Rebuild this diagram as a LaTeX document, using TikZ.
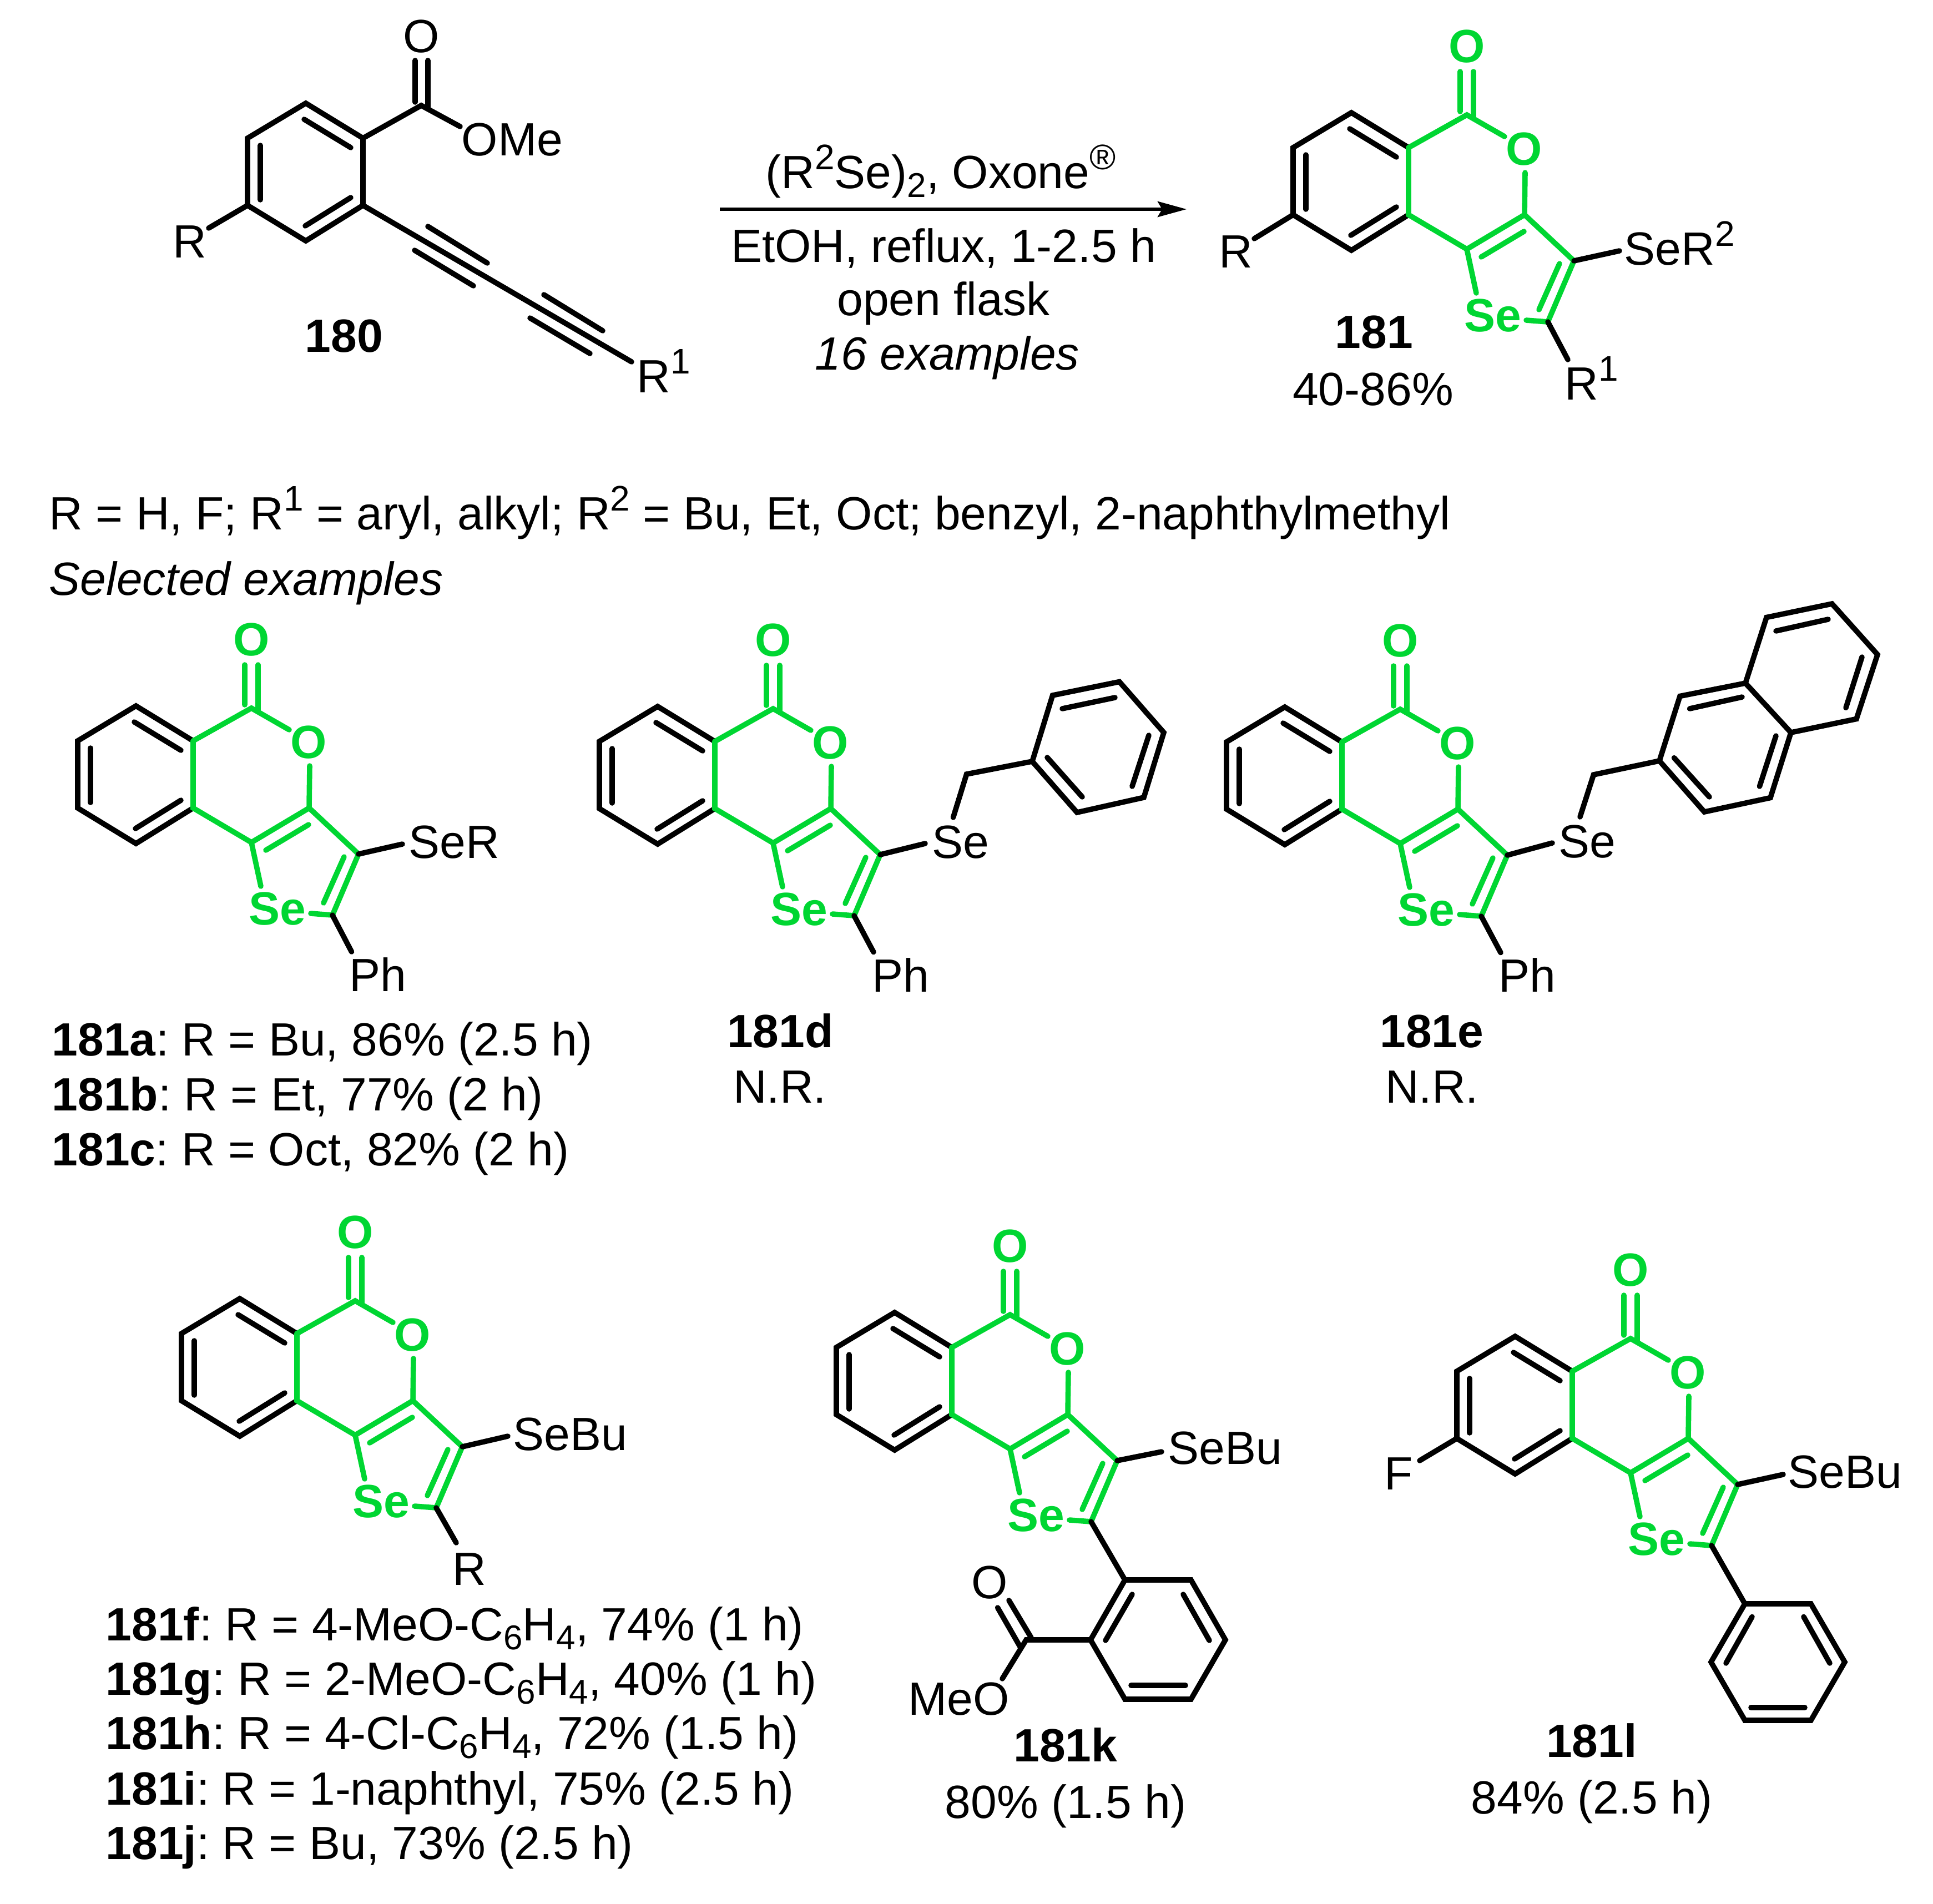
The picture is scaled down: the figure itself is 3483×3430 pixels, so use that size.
\documentclass[tikz,border=0pt]{standalone}
\usepackage{fontspec}
\setmainfont{Liberation Sans}
\usetikzlibrary{arrows.meta}
\definecolor{hl}{RGB}{0,214,50}
\newcommand{\supp}[1]{\raisebox{8.5pt}{\fontsize{16pt}{16pt}\selectfont #1}}
\newcommand{\subb}[1]{\raisebox{-4.2pt}{\fontsize{15.5pt}{16pt}\selectfont #1}}
\tikzset{
  bond/.style={line width=2.4pt,line cap=round,line join=miter,draw=black},
  gbond/.style={line width=2.4pt,line cap=round,line join=miter,draw=hl},
  lbl/.style={inner sep=0pt,anchor=base west,text=black},
  clbl/.style={inner sep=0pt,anchor=base,text=black},
  glbl/.style={inner sep=0pt,anchor=base,text=hl,font=\fontsize{21pt}{24pt}\selectfont\bfseries},
  aring/.pic={
    \coordinate (T) at (-208,-4);
    \coordinate (UL) at (-313,59);
    \coordinate (LL) at (-313,180);
    \coordinate (B) at (-208,244);
    \coordinate (FL) at (-105,180);
    \coordinate (FU) at (-105,59);
    \draw[bond] (FU) -- (T) -- (UL) -- (LL) -- (B) -- (FL);
    \draw[bond] (-211,25) -- (-127,76);
    \draw[bond] (-290,72) -- (-290,170);
    \draw[bond] (-209,217) -- (-127,166);
  },
  core/.pic={
    \coordinate (C) at (0,0);
    \pic {aring};
    \coordinate (FL) at (-105,180);
    \coordinate (FU) at (-105,59);
    \coordinate (LL) at (-313,180);
    \coordinate (CO) at (104,180);
    \coordinate (CS) at (0,242);
    \coordinate (CR) at (193,263);
    \coordinate (CP) at (146,373);
    \node[glbl] (O1) at (0,-95) {O};
    \node[glbl] (O2) at (103,90) {O};
    \node[glbl] (Se) at (47,390) {Se};
    \draw[gbond] (FU) -- (FL) -- (CS) -- (CO) -- (CR) -- (CP);
    \draw[gbond] (FU) -- (C) -- (68,39);
    \draw[gbond] (CO) -- (105,104);
    \draw[gbond] (-12,-78) -- (-12,-6);
    \draw[gbond] (12,-78) -- (12,6);
    \draw[gbond] (26,256) -- (103,210);
    \draw[gbond] (167,268) -- (130,351);
    \draw[gbond] (CS) -- (17,321);
    \draw[gbond] (CP) -- (107,370);
  },
}
\begin{document}
\frenchspacing
\begin{tikzpicture}[x=0.25pt,y=-0.25pt,font=\fontsize{21pt}{24pt}\selectfont]
\useasboundingbox (0,0) rectangle (3483,3430);
% ---------- 180
\pic (s-) at (759,190) {aring};
\coordinate (sC) at (759,190);
\coordinate (sFU) at (654,249);
\coordinate (sFL) at (654,370);
\coordinate (sLL) at (446,370);
\coordinate (sR1) at (1138,652);
\coordinate (sRe) at (376,411);
\coordinate (sOe) at (829,228);
\node[clbl] (sO) at (759,94) {O};
\node[lbl] (sOMe) at (831,280) {OMe};
\node[lbl] (sR) at (311,464) {R};
\node[lbl] (sR1t) at (1147,707) {R\supp{1}};
\node[clbl] (t180) at (620,634) {\bfseries 180};
\draw[bond] (sFU) -- (sFL);
\draw[bond] (sFU) -- (sC) -- (sOe);
\draw[bond] (748,109) -- (748,184);
\draw[bond] (771,109) -- (771,196);
\draw[bond] (sFL) -- (sR1);
\draw[bond] (sLL) -- (sRe);
\draw[bond] (771,408) -- (878,474);
\draw[bond] (747,451) -- (853,515);
\draw[bond] (980,531) -- (1086,596);
\draw[bond] (955,573) -- (1063,637);
% ---------- arrow
\coordinate (arrS) at (1297,377);
\coordinate (arrE) at (2138,377);
\draw[line width=1.5pt,-{Stealth[length=13pt,width=7pt,inset=2pt]}] (arrS) -- (arrE);
\node[clbl] (r1) at (1695,339) {(R\supp{2}Se)\subb{2}, Oxone\supp{®}};
\node[clbl] (r2) at (1700,472) {EtOH, reflux, 1-2.5 h};
\node[clbl] (r3) at (1700,568) {open flask};
\node[clbl] (r4) at (1707,666) {\itshape 16 examples};
% ---------- 181
\pic (p-) at (2643,207) {core};
\node[lbl] (pR) at (2196,482) {R};
\coordinate (pRe) at (2260,430);
\draw[bond] (p-LL) -- (pRe);
\coordinate (pSe) at (2918,452);
\draw[bond] (p-CR) -- (pSe);
\node[lbl] (pSeR) at (2926,477) {SeR\supp{2}};
\coordinate (pRb) at (2825,648);
\draw[bond] (p-CP) -- (pRb);
\node[lbl] (pR1) at (2819,720) {R\supp{1}};
\node[clbl] (t181) at (2476,627) {\bfseries 181};
\node[clbl] (t181y) at (2474,730) {40-86\%};
% ---------- text
\node[lbl] (defs) at (88,954) {R = H, F; R\supp{1} = aryl, alkyl; R\supp{2} = Bu, Et, Oct; benzyl, 2-naphthylmethyl};
\node[lbl] (sel) at (88,1072) {\itshape Selected examples};
% ---------- 181a-c
\pic (a-) at (453,1276) {core};
\coordinate (aSe) at (725,1521);
\coordinate (aPh) at (633.5,1715);
\draw[bond] (a-CR) -- (aSe);
\draw[bond] (a-CP) -- (aPh);
\node[lbl] (aSeR) at (736,1546) {SeR};
\node[lbl] (aPht) at (629,1786) {Ph};
\node[lbl] (la) at (93,1902) {\textbf{181a}: R = Bu, 86\% (2.5 h)};
\node[lbl] (lb) at (93,2001) {\textbf{181b}: R = Et, 77\% (2 h)};
\node[lbl] (lc) at (93,2100) {\textbf{181c}: R = Oct, 82\% (2 h)};
% ---------- 181d
\pic (d-) at (1393,1277) {core};
\coordinate (dSe) at (1667,1520);
\coordinate (dPh) at (1574,1715.6);
\draw[bond] (d-CR) -- (dSe);
\draw[bond] (d-CP) -- (dPh);
\node[lbl] (dSet) at (1679,1546) {Se};
\node[lbl] (dPht) at (1571,1787) {Ph};
\coordinate (dSb) at (1717.5,1473);
\coordinate (dCH) at (1741.6,1395);
\coordinate (d1) at (1860,1372);
\coordinate (d2) at (1896.6,1253);
\coordinate (d3) at (2017,1228.5);
\coordinate (d4) at (2097,1320);
\coordinate (d5) at (2061,1437);
\coordinate (d6) at (1940.6,1464);
\draw[bond] (dSb) -- (dCH) -- (d1);
\draw[bond] (d1) -- (d2) -- (d3) -- (d4) -- (d5) -- (d6) -- cycle;
\draw[bond] (1914,1277) -- (2009,1257);
\draw[bond] (2070,1325) -- (2040,1417);
\draw[bond] (1887,1365) -- (1950,1436);
\node[clbl] (ld) at (1406,1887) {\bfseries 181d};
\node[clbl] (ldn) at (1405,1987) {N.R.};
% ---------- 181e
\pic (e-) at (2523,1278) {core};
\coordinate (eSe) at (2797,1519);
\coordinate (ePh) at (2704,1716.6);
\draw[bond] (e-CR) -- (eSe);
\draw[bond] (e-CP) -- (ePh);
\node[lbl] (eSet) at (2808,1545) {Se};
\node[lbl] (ePht) at (2700,1787) {Ph};
\coordinate (eSb) at (2847,1472);
\coordinate (eCH) at (2871.4,1396);
\coordinate (e1) at (2990,1371);
\coordinate (e2) at (3027,1254.5);
\coordinate (e3) at (3145,1231);
\coordinate (e4) at (3227,1320);
\coordinate (e5) at (3190,1437.5);
\coordinate (e6) at (3071,1463);
\coordinate (e7) at (3183,1112.5);
\coordinate (e8) at (3301,1088);
\coordinate (e9) at (3383,1179.5);
\coordinate (e10) at (3345,1295.5);
\draw[bond] (eSb) -- (eCH) -- (e1);
\draw[bond] (e1) -- (e2) -- (e3) -- (e4) -- (e5) -- (e6) -- cycle;
\draw[bond] (e3) -- (e7) -- (e8) -- (e9) -- (e10) -- (e4);
\draw[bond] (3044.6,1277) -- (3139,1256);
\draw[bond] (3016.5,1365.6) -- (3080,1436);
\draw[bond] (3200,1326) -- (3170.5,1417);
\draw[bond] (3200,1137) -- (3294,1116);
\draw[bond] (3355,1184) -- (3326,1275.4);
\node[clbl] (le) at (2580,1887) {\bfseries 181e};
\node[clbl] (len) at (2580,1987) {N.R.};
% ---------- 181f-j
\pic (f-) at (640,2344) {core};
\coordinate (fSe) at (915,2588);
\coordinate (fR) at (822,2780);
\draw[bond] (f-CR) -- (fSe);
\draw[bond] (f-CP) -- (fR);
\node[lbl] (fSet) at (924,2613) {SeBu};
\node[lbl] (fRt) at (815,2856) {R};
\node[lbl] (lf) at (190,2956) {\textbf{181f}: R = 4-MeO-C\subb{6}H\subb{4}, 74\% (1 h)};
\node[lbl] (lg) at (190,3054) {\textbf{181g}: R = 2-MeO-C\subb{6}H\subb{4}, 40\% (1 h)};
\node[lbl] (lh) at (190,3152) {\textbf{181h}: R = 4-Cl-C\subb{6}H\subb{4}, 72\% (1.5 h)};
\node[lbl] (li) at (190,3252) {\textbf{181i}: R = 1-naphthyl, 75\% (2.5 h)};
\node[lbl] (lj) at (190,3350) {\textbf{181j}: R = Bu, 73\% (2.5 h)};
% ---------- 181k
\pic (k-) at (1820,2369) {core};
\coordinate (kSe) at (2093,2616);
\draw[bond] (k-CR) -- (kSe);
\node[lbl] (kSet) at (2104,2638) {SeBu};
\coordinate (k1) at (2027,2847);
\coordinate (k2) at (2146,2847);
\coordinate (k3) at (2208,2955);
\coordinate (k4) at (2146,3062);
\coordinate (k5) at (2027,3062);
\coordinate (k6) at (1965,2955);
\coordinate (kE) at (1849,2955);
\coordinate (kOb) at (1806,3025);
\draw[bond] (k-CP) -- (k1);
\draw[bond] (k1) -- (k2) -- (k3) -- (k4) -- (k5) -- (k6) -- cycle;
\draw[bond] (2132,2873) -- (2179,2956);
\draw[bond] (2038,3037) -- (2136,3037);
\draw[bond] (2040,2873) -- (1992,2956);
\draw[bond] (k6) -- (kE) -- (kOb);
\draw[bond] (1797.6,2897) -- (1839,2969);
\draw[bond] (1818,2884) -- (1858,2951);
\node[clbl] (kO) at (1783.5,2880.5) {O};
\node[lbl] (kMeO) at (1636,3090) {MeO};
\node[clbl] (lk) at (1920,3174) {\bfseries 181k};
\node[clbl] (lky) at (1920,3276) {80\% (1.5 h)};
% ---------- 181l
\pic (l-) at (2938,2412) {core};
\coordinate (lF) at (2558,2632);
\draw[bond] (l-LL) -- (lF);
\node[lbl] (lFt) at (2494,2684.6) {F};
\coordinate (lSe) at (3213,2657);
\draw[bond] (l-CR) -- (lSe);
\node[lbl] (lSet) at (3221,2681) {SeBu};
\coordinate (l1) at (3144,2890);
\coordinate (l2) at (3263,2890);
\coordinate (l3) at (3324,2995);
\coordinate (l4) at (3263,3100);
\coordinate (l5) at (3144,3100);
\coordinate (l6) at (3083,2995);
\draw[bond] (l-CP) -- (l1);
\draw[bond] (l1) -- (l2) -- (l3) -- (l4) -- (l5) -- (l6) -- cycle;
\draw[bond] (3250,2913.5) -- (3297,2997);
\draw[bond] (3155,3077) -- (3252,3077);
\draw[bond] (3157,2913.5) -- (3110,2997);
\node[clbl] (ll) at (2868,3166) {\bfseries 181l};
\node[clbl] (lly) at (2868,3268) {84\% (2.5 h)};
\end{tikzpicture}
\end{document}
